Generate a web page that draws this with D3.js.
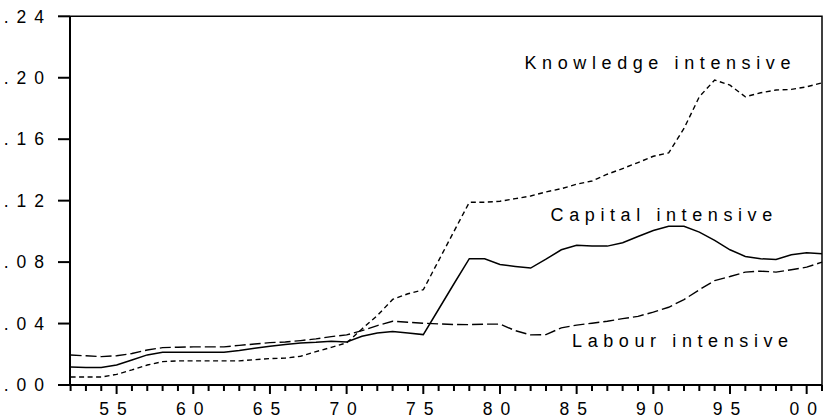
<!DOCTYPE html>
<html lang="en">
<script src='https://d3js.org/d3.v7.min.js'></script>
<head>
    <meta charset="UTF-8">
    <title>Knowledge, capital and labour intensive</title>
    <style>
        body { margin: 0; background: #fff; }
        svg { display: block; font-family: "Liberation Sans", Arial, sans-serif; }
        .tick text { font-size: 17.5px; letter-spacing: 8px; fill: #000; }
        .label { font-size: 18px; letter-spacing: 5.6px; fill: #000; }
    </style>
</head>
<body onload='init()'>
<svg width=825 height=420></svg>
<script>
    // yearly values 1952 - 2001
    var years = d3.range(1952, 2002);

    var knowledge = [0.0052, 0.0052, 0.0052, 0.0069, 0.0098, 0.0130, 0.0152, 0.0157, 0.0157, 0.0157,
        0.0157, 0.0157, 0.0165, 0.0172, 0.0175, 0.0187, 0.0217, 0.0245, 0.0274, 0.0365,
        0.0452, 0.0557, 0.0594, 0.0620, 0.0810, 0.1000, 0.1189, 0.1190, 0.1196, 0.1213,
        0.1230, 0.1257, 0.1278, 0.1307, 0.1328, 0.1372, 0.1409, 0.1448, 0.1489, 0.1511,
        0.1670, 0.1876, 0.1985, 0.1952, 0.1876, 0.1902, 0.1920, 0.1924, 0.1941, 0.1967];

    var capital = [0.0117, 0.0114, 0.0114, 0.0130, 0.0163, 0.0196, 0.0213, 0.0213, 0.0213, 0.0213,
        0.0213, 0.0224, 0.0239, 0.0252, 0.0263, 0.0274, 0.0278, 0.0285, 0.0280, 0.0317,
        0.0339, 0.0348, 0.0339, 0.0328, 0.0493, 0.0659, 0.0822, 0.0822, 0.0785, 0.0772,
        0.0761, 0.0819, 0.0880, 0.0910, 0.0904, 0.0904, 0.0926, 0.0967, 0.1006, 0.1033,
        0.1033, 0.0995, 0.0941, 0.0880, 0.0837, 0.0822, 0.0817, 0.0848, 0.0861, 0.0855];

    var labour = [0.0195, 0.0190, 0.0185, 0.0190, 0.0205, 0.0228, 0.0243, 0.0246, 0.0248, 0.0248,
        0.0248, 0.0258, 0.0267, 0.0276, 0.0280, 0.0289, 0.0300, 0.0315, 0.0326, 0.0354,
        0.0387, 0.0415, 0.0408, 0.0402, 0.0398, 0.0394, 0.0393, 0.0396, 0.0396, 0.0354,
        0.0326, 0.0328, 0.0372, 0.0390, 0.0402, 0.0415, 0.0432, 0.0447, 0.0474, 0.0506,
        0.0556, 0.0620, 0.0680, 0.0706, 0.0735, 0.0741, 0.0735, 0.0750, 0.0767, 0.0800];

    var yTicks = [0, 0.04, 0.08, 0.12, 0.16, 0.20, 0.24];
    var xMajor = [1955, 1960, 1965, 1970, 1975, 1980, 1985, 1990, 1995, 2000];

    var labelNames = ["Knowledge intensive", "Capital intensive", "Labour intensive"];
    var labelYears = [1981.6, 1983.3, 1984.7];
    var labelValues = [0.2057, 0.1067, 0.0245];

    function init() {
        var svg = d3.select("svg");
        var left = 70, right = 822, top = 16.3, bottom = 385;

        var xs = d3.scaleLinear().domain([1952, 2001]).range([left + 0.6, right]);
        var ys = d3.scaleLinear().domain([0, 0.24]).range([bottom, top]);

        // tick marks as paths (yearly minor, 5-year major)
        svg.append("g").selectAll("path")
            .data(years)
            .enter()
            .append("path")
            .attr("d", d => "M" + xs(d) + "," + bottom + "V" + (bottom + (d % 5 == 0 ? 9 : 6)))
            .attr("fill", "none").attr("stroke", "#000").attr("stroke-width", 2);

        svg.append("g").selectAll("path")
            .data(yTicks)
            .enter()
            .append("path")
            .attr("d", d => "M" + (left - 12) + "," + ys(d) + "H" + left)
            .attr("fill", "none").attr("stroke", "#000").attr("stroke-width", 2);

        // frame
        svg.append("path")
            .attr("d", "M" + left + "," + top + "H" + right + "V" + bottom)
            .attr("fill", "none").attr("stroke", "#000").attr("stroke-width", 1.5);

        var gx = svg.append("g")
            .attr("transform", "translate(0," + bottom + ")")
            .call(d3.axisBottom(xs).tickValues(xMajor).tickSize(0).tickPadding(17.6)
                .tickFormat(d => String(d).slice(2)));
        gx.select(".domain").remove();

        var gy = svg.append("g")
            .attr("transform", "translate(" + left + ",0)")
            .call(d3.axisLeft(ys).tickValues(yTicks).tickSize(0).tickPadding(18)
                .tickFormat(d => d3.format(".2f")(d).replace(/^0/, "")));
        gy.select(".domain").remove();
        gy.selectAll(".tick text").attr("dy", "0.33em");

        // axis lines
        svg.append("path")
            .attr("d", "M" + left + "," + top + "V" + bottom + "H" + right)
            .attr("fill", "none").attr("stroke", "#000").attr("stroke-width", 2);

        var line = d3.line()
            .x((d, i) => xs(years[i]))
            .y(d => ys(d));

        svg.append("path").datum(labour)
            .attr("d", line)
            .attr("fill", "none").attr("stroke", "#000").attr("stroke-width", 1.4)
            .attr("stroke-dasharray", "11,4");

        svg.append("path").datum(capital)
            .attr("d", line)
            .attr("fill", "none").attr("stroke", "#000").attr("stroke-width", 1.5);

        svg.append("path").datum(knowledge)
            .attr("d", line)
            .attr("fill", "none").attr("stroke", "#000").attr("stroke-width", 1.4)
            .attr("stroke-dasharray", "5,3.5");

        svg.selectAll("text.label")
            .data(labelNames)
            .enter()
            .append("text")
            .attr("class", "label")
            .attr("x", (d, i) => xs(labelYears[i]))
            .attr("y", (d, i) => ys(labelValues[i]))
            .text(d => d);
    }
</script>
</body>
</html>
